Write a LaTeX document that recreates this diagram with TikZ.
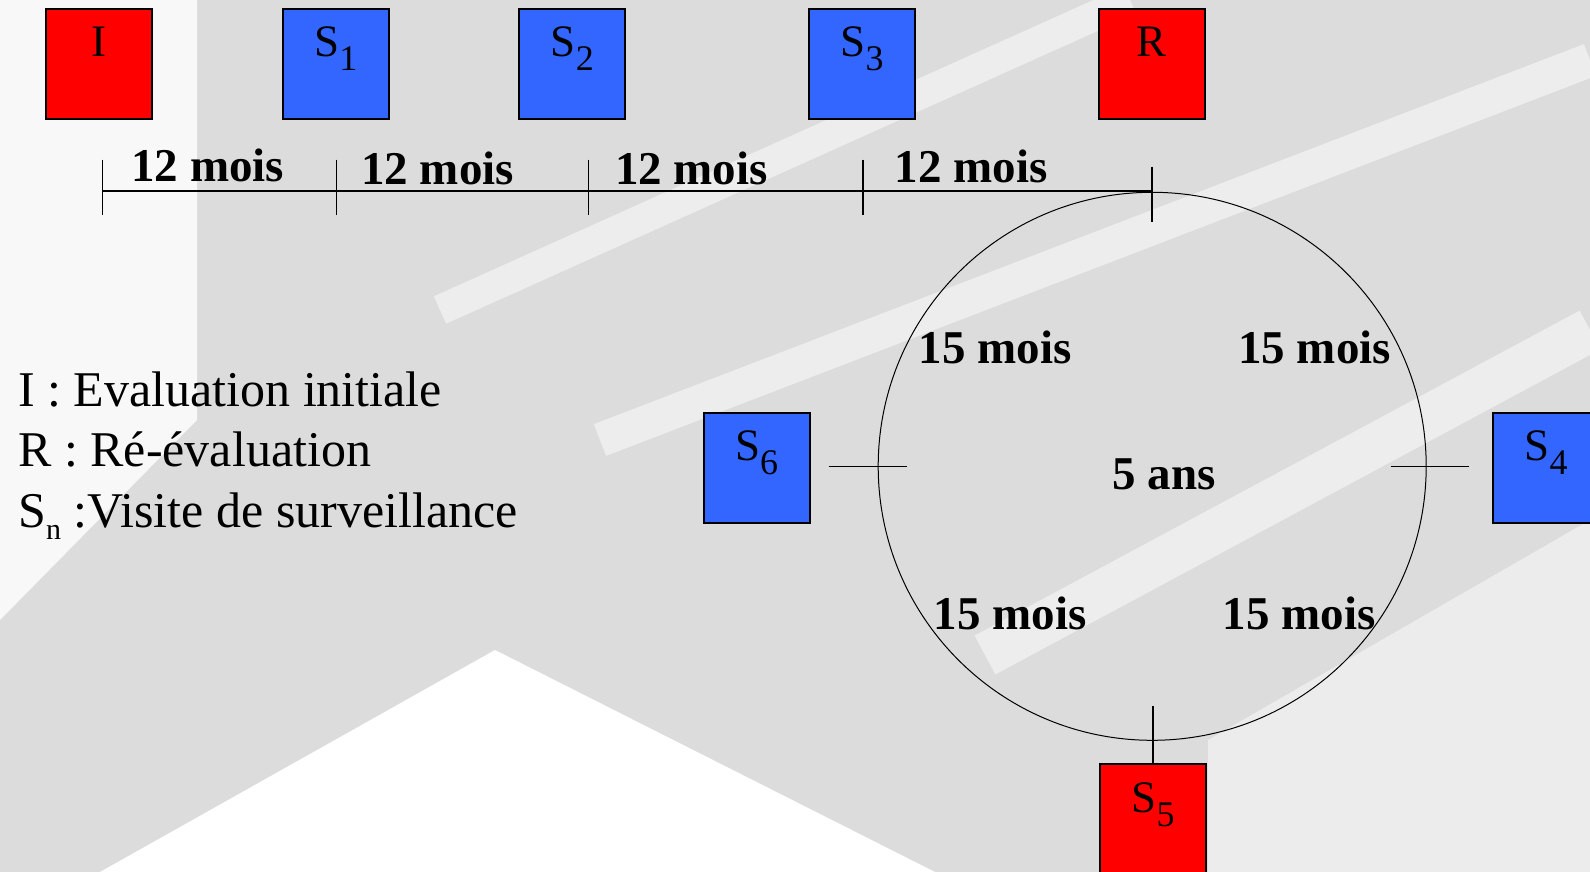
\documentclass[tikz,border=0pt]{standalone}
\usepackage{fontspec}
\setmainfont{Liberation Serif}
\usepackage{tikz}
\usetikzlibrary{positioning}
\definecolor{visitred}{RGB}{255,0,0}
\definecolor{visitblue}{RGB}{51,102,255}
\definecolor{slidegray}{RGB}{220,220,220}
\definecolor{slidelight}{RGB}{236,236,236}
\tikzstyle{visit}=[draw, line width=1pt, rectangle, minimum width=53pt, inner sep=0pt, text height=24pt, text depth=31pt, font=\fontsize{22.5}{27}\selectfont]
\tikzstyle{ev}=[visit, fill=visitred]
\tikzstyle{sv}=[visit, fill=visitblue]
\tikzstyle{dur}=[anchor=base, inner sep=0pt, font=\fontsize{23.5}{28}\selectfont\bfseries]
\tikzstyle{leg}=[anchor=base west, inner sep=0pt, font=\fontsize{25}{30}\selectfont]
\tikzstyle{stripe}=[white, opacity=0.5]
\def\Sd#1{S\raisebox{-7pt}{\fontsize{18}{18}\selectfont #1}}
\def\Sn{S\raisebox{-6.3pt}{\fontsize{15}{15}\selectfont n}}

\begin{document}
\begin{tikzpicture}[x=0.5pt, y=-0.5pt]
      % \draw[help lines] (0,0) grid[step=100] (1590,872);
      \useasboundingbox (0,0) rectangle (1590,872);
      \begin{scope}
      \clip (0,0) rectangle (1590,872);
      \fill[slidegray] (0,0) rectangle (1590,872);
      \fill[white, opacity=0.8] (0,0) -- (197,0) -- (197,420) -- (0,620) -- cycle;
      \fill[white] (495,650) -- (935,872) -- (100,872) -- cycle;
      \fill[slidelight] (1208,872) -- (1208,740) -- (1590,520) -- (1590,872) -- cycle;
      \draw[stripe, line width=15pt] (440,310) -- (1130,0);
      \draw[stripe, line width=17pt] (600,440) -- (1590,60);
      \draw[stripe, line width=22pt] (985,655) -- (1590,330);
      \end{scope}

      \node [ev] (I)  at (98.5, 63.7) {I};
      \node [sv] (S1) at (335.9, 63.7) {\Sd{1}};
      \node [sv] (S2) at (572.3, 63.7) {\Sd{2}};
      \node [sv] (S3) at (862, 63.7) {\Sd{3}};
      \node [ev] (R)  at (1151.8, 63.7) {R};

      \coordinate (t0) at (102.6, 190.7);
      \coordinate (t1) at (336.7, 190.7);
      \coordinate (t2) at (588.8, 190.7);
      \coordinate (t3) at (863, 190.7);
      \coordinate (t4) at (1152, 190.7);
      \draw [line width=0.8pt] (t0) -- (t4);
      \foreach \t in {t0,t1,t2,t3}
        \draw [line width=0.6pt] (\t) ++(0,-31) -- ++(0,55);
      \draw [line width=0.6pt] (t4) ++(0,-24) -- ++(0,55);

      \node [dur] (m1) at (207.8, 181.7) {12 mois};
      \node [dur] (m2) at (437.5, 184.3) {12 mois};
      \node [dur] (m3) at (691.4, 184.3) {12 mois};
      \node [dur] (m4) at (971, 182.3) {12 mois};

      \node [draw, circle, line width=0.5pt, minimum size=274pt, inner sep=0pt] (cyc) at (1152.2, 466.3) {};
      \node [sv] (S6) at (756.7, 467.9) {\Sd{6}};
      \node [sv] (S4) at (1546, 467.9) {\Sd{4}};
      \node [ev] (S5) at (1153, 819) {\Sd{5}};

      \draw [line width=0.6pt] ([xshift=-24.5pt]cyc.west) -- ([xshift=14.7pt]cyc.west);
      \draw [line width=0.6pt] ([xshift=-17.9pt]cyc.east) -- ([xshift=21.1pt]cyc.east);
      \draw [line width=0.6pt] (S5.north) -- ++(0,-57);

      \node [dur] (q1) at (995.1, 363.3) {15 mois};
      \node [dur] (q2) at (1314.5, 363.3) {15 mois};
      \node [dur] (q3) at (1010, 629) {15 mois};
      \node [dur] (q4) at (1299.2, 629) {15 mois};
      \node [dur] (ans) at (1164.2, 489.3) {5 ans};

      \node [leg] (legI) at (17.9, 406.7) {I : Evaluation initiale};
      \node [leg] (legR) at (17.9, 466) {R : Ré-évaluation};
      \node [leg] (legS) at (17.9, 527.3) {\Sn{} :Visite de surveillance};
\end{tikzpicture}
\end{document}
